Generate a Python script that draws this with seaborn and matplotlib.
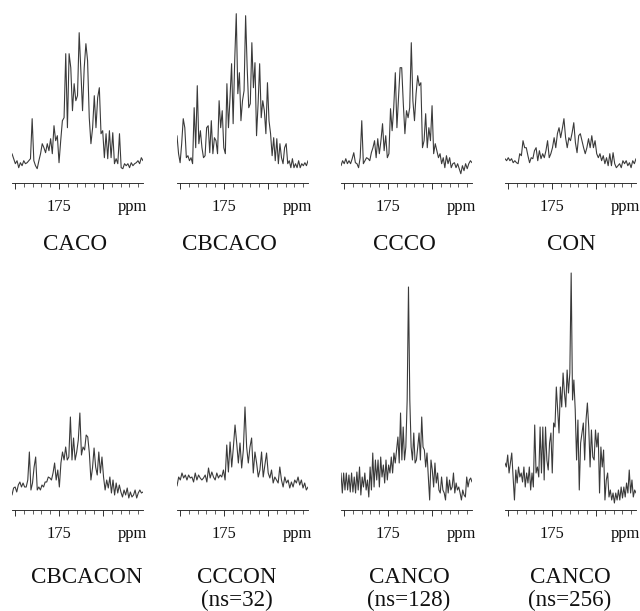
"""
Espectros 1D de carbonila (13C) - oito experimentos lado a lado,
eixo em ppm invertido, so o rotulo 175 e 'ppm' embaixo.
"""
import numpy as np
import pandas as pd
import matplotlib
matplotlib.use('Agg')
import matplotlib.pyplot as plt
import seaborn as sns
from matplotlib.ticker import FixedLocator, NullFormatter

# intensidades (altura acima do eixo), da esquerda p/ direita
caco = [29, 24, 19, 22, 15, 20, 17, 22, 19, 20, 22, 24, 64, 22, 17, 14, 22, 29, 39, 35,
        30, 39, 32, 44, 29, 57, 42, 47, 20, 42, 62, 65, 129, 55, 129, 115, 72, 99, 82, 87,
        150, 112, 72, 115, 139, 122, 65, 39, 55, 87, 55, 85, 95, 49, 52, 25, 49, 24, 52, 25,
        50, 19, 24, 19, 49, 15, 14, 19, 17, 19, 15, 20, 17, 19, 20, 22, 19, 25, 22]
cbcaco = [47, 29, 20, 39, 64, 55, 25, 27, 22, 25, 19, 75, 35, 97, 39, 52, 35, 25, 27, 55,
          57, 30, 62, 29, 45, 42, 29, 82, 55, 72, 35, 29, 99, 55, 85, 119, 59, 122, 169, 89,
          110, 62, 82, 92, 167, 115, 75, 79, 140, 95, 120, 47, 79, 119, 65, 82, 72, 49, 100, 62,
          49, 27, 45, 22, 44, 19, 39, 25, 19, 35, 39, 19, 22, 15, 24, 15, 19, 15, 22, 15,
          19, 17, 20, 17, 22]
ccco = [17, 22, 19, 24, 19, 22, 19, 24, 30, 20, 19, 15, 25, 62, 19, 22, 25, 24, 22, 30,
        35, 42, 25, 44, 29, 42, 59, 32, 47, 25, 29, 74, 52, 75, 110, 55, 85, 115, 115, 79,
        49, 72, 65, 75, 140, 82, 62, 89, 107, 97, 100, 35, 42, 69, 35, 55, 42, 77, 29, 39,
        32, 25, 29, 19, 25, 15, 27, 19, 25, 15, 19, 20, 15, 19, 14, 9, 17, 12, 19, 14,
        19, 22, 20]
con = [24, 22, 25, 22, 24, 20, 22, 20, 19, 29, 27, 42, 35, 35, 27, 20, 25, 24, 32, 35,
       22, 32, 24, 29, 25, 32, 42, 25, 29, 35, 45, 35, 49, 55, 45, 54, 64, 45, 35, 45,
       42, 50, 60, 40, 30, 47, 49, 42, 35, 29, 35, 44, 35, 47, 35, 42, 29, 25, 29, 22,
       27, 19, 25, 17, 29, 17, 30, 19, 15, 17, 19, 15, 22, 19, 22, 17, 20, 15, 22, 19, 24]
cbcacon = [15, 22, 23, 18, 25, 28, 23, 27, 23, 23, 30, 58, 20, 27, 43, 53, 20, 23, 20, 25,
           23, 28, 28, 33, 32, 30, 37, 47, 30, 40, 23, 47, 58, 50, 63, 50, 53, 93, 50, 72,
           50, 58, 70, 97, 55, 63, 60, 75, 73, 57, 30, 42, 62, 43, 35, 58, 37, 53, 33, 20,
           30, 22, 33, 17, 30, 15, 27, 17, 25, 18, 13, 20, 15, 22, 12, 18, 13, 15, 20, 12,
           17, 20, 17, 18]
cccon = [24, 33, 30, 37, 32, 35, 30, 35, 32, 33, 28, 37, 30, 35, 32, 30, 32, 35, 28, 42,
         32, 38, 33, 30, 37, 32, 35, 33, 40, 30, 65, 38, 68, 43, 63, 85, 67, 47, 67, 42,
         60, 103, 63, 47, 63, 72, 37, 58, 47, 33, 40, 58, 33, 45, 57, 37, 32, 40, 27, 33,
         30, 27, 43, 30, 23, 33, 27, 30, 22, 28, 23, 30, 27, 33, 25, 30, 22, 27, 20, 23]
canco_128 = [37, 17, 37, 20, 37, 20, 35, 18, 37, 18, 33, 17, 38, 20, 43, 15, 33, 23, 37, 20,
             30, 13, 43, 20, 57, 23, 50, 30, 50, 23, 53, 33, 45, 27, 50, 30, 45, 37, 53, 37,
             57, 47, 60, 73, 47, 97, 50, 83, 50, 63, 110, 223, 110, 63, 50, 77, 47, 50, 63, 77,
             50, 93, 63, 60, 43, 57, 33, 10, 50, 40, 23, 47, 27, 37, 20, 17, 33, 20, 17, 10,
             33, 17, 30, 20, 23, 37, 17, 27, 20, 23, 17, 10, 20, 15, 13, 33, 23, 30, 32, 28]
canco_256 = [47, 43, 55, 37, 47, 57, 33, 10, 40, 27, 43, 33, 37, 28, 43, 23, 37, 27, 43, 20,
             37, 23, 85, 37, 43, 33, 83, 37, 83, 30, 83, 50, 40, 67, 77, 37, 87, 83, 123, 100,
             77, 123, 103, 137, 117, 103, 140, 117, 137, 237, 110, 130, 100, 50, 90, 20, 67, 77, 87, 50,
             90, 107, 83, 43, 80, 53, 50, 80, 63, 77, 17, 63, 43, 60, 10, 30, 37, 13, 20, 10,
             17, 7, 17, 10, 20, 10, 23, 12, 23, 13, 27, 17, 40, 17, 30, 13, 20, 17]

top_spectra = [caco, cbcaco, ccco, con]
bottom_spectra = [cbcacon, cccon, canco_128, canco_256]
top_titles = [['CACO'], ['CBCACO'], ['CCCO'], ['CON']]
bottom_titles = [['CBCACON'], ['CCCON', '(ns=32)'], ['CANCO', '(ns=128)'], ['CANCO', '(ns=256)']]

ppm_range = (180.34, 165.45)   # eixo invertido
major_ppm = [180, 175, 170]
minor_ppm = list(range(166, 181))
label_ppm = 175

sns.set_style('white')
plt.rcParams['font.family'] = ['Liberation Serif', 'DejaVu Serif']

W, H, DPI = 640, 611, 72
fig = plt.figure(figsize=(W / DPI, H / DPI), dpi=DPI)

col_left = [12, 177, 341, 505]
axis_w = 131


def draw_panel(left, top, bottom, values):
    ax = fig.add_axes([left / W, 1 - bottom / H, axis_w / W, (bottom - top) / H])
    df = pd.DataFrame({'ppm': np.linspace(ppm_range[0], ppm_range[1], len(values)),
                       'intensity': values})
    sns.lineplot(data=df, x='ppm', y='intensity', ax=ax, color='#3a3a3a',
                 linewidth=1.1, sort=False, estimator=None)
    ax.set_xlim(*ppm_range)
    ax.set_ylim(0, bottom - top)
    ax.set_yticks([])
    ax.set_xlabel('')
    ax.set_ylabel('')
    sns.despine(ax=ax, left=True)
    ax.spines['bottom'].set_linewidth(0.9)
    ax.spines['bottom'].set_color('#222222')
    ax.xaxis.set_major_locator(FixedLocator(major_ppm))
    ax.xaxis.set_minor_locator(FixedLocator(minor_ppm))
    ax.xaxis.set_major_formatter(NullFormatter())
    ax.tick_params(axis='x', which='major', direction='out', length=6, width=0.9,
                   color='#222222', bottom=True)
    ax.tick_params(axis='x', which='minor', direction='out', length=3.5, width=0.7,
                   color='#222222', bottom=True)
    ax.annotate(str(label_ppm), xy=(label_ppm, 0), xycoords=('data', 'axes fraction'),
                xytext=(0, -28.5), textcoords='offset points', ha='center', va='baseline',
                fontsize=16.5, color='#111111')
    ax.annotate('ppm', xy=(1, 0), xycoords='axes fraction',
                xytext=(-11, -28.5), textcoords='offset points', ha='center', va='baseline',
                fontsize=16.5, color='#111111')
    return ax


for left, vals in zip(col_left, top_spectra):
    draw_panel(left, 0, 182.7, vals)
for left, vals in zip(col_left, bottom_spectra):
    draw_panel(left, 260, 510, vals)

# titulos abaixo de cada espectro
top_title_x = [75, 229, 404, 571]
bottom_title_x = [87, 237, 409, 570]
for x, lines in zip(top_title_x, top_titles):
    fig.text(x / W, 1 - 250 / H, lines[0], ha='center', va='baseline', fontsize=23,
             color='#111111')
for x, lines in zip(bottom_title_x, bottom_titles):
    for line, base in zip(lines, [583, 606]):
        fig.text(x / W, 1 - base / H, line, ha='center', va='baseline', fontsize=23,
                 color='#111111')

fig.savefig('out.png', dpi=DPI)
